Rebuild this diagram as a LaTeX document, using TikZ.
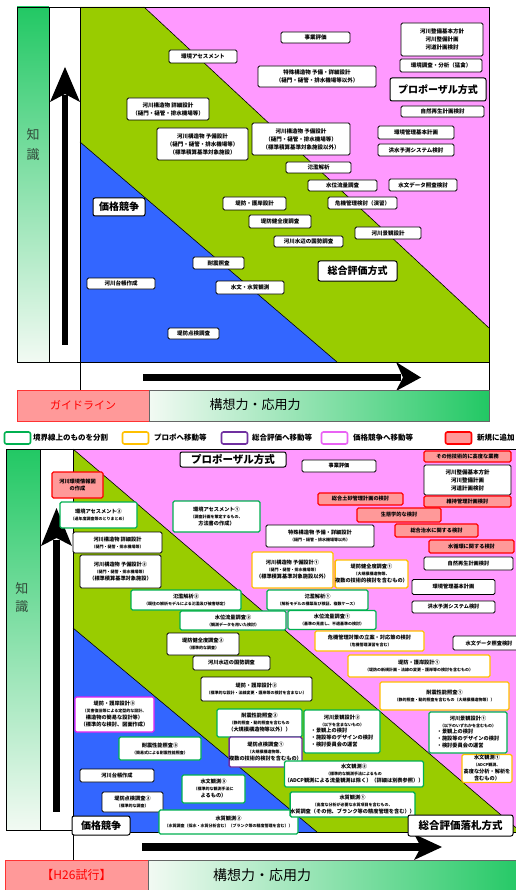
\documentclass[tikz,border=0pt]{standalone}
\usepackage{fontspec}
\setmainfont{Noto Sans CJK JP}
\definecolor{pk}{HTML}{FF99FF}
\definecolor{gr}{HTML}{99CC00}
\definecolor{bl}{HTML}{3366FF}
\definecolor{lgG}{HTML}{00B050}
\definecolor{lgO}{HTML}{FFC000}
\definecolor{lgP}{HTML}{7030A0}
\definecolor{lgM}{HTML}{E020F0}
\definecolor{lgR}{HTML}{FF0000}
\definecolor{lgRf}{HTML}{FF9999}
\definecolor{kg}{HTML}{22C864}
\definecolor{kgW}{HTML}{F2FAF3}
\definecolor{kt}{HTML}{304838}
\newcommand\smt{\fontsize{4}{6}\selectfont}
\tikzset{
  sz/.style 2 args={minimum width=#1pt, minimum height=#2pt},
  bx/.style={draw=black, fill=white, line width=0.8pt, rounded corners=1.5pt, inner sep=0pt, align=center, font=\fontsize{5.5}{8}\selectfont\bfseries},
  bb/.style={bx, font=\fontsize{5.2}{7}\selectfont\bfseries},
  bxG/.style={bb, draw=lgG, line width=1.3pt},
  bxO/.style={bb, draw=lgO, line width=1.3pt},
  bxP/.style={bb, draw=lgP, line width=1.3pt},
  bxM/.style={bb, draw=lgM, line width=1.3pt},
  bxR/.style={bb, draw=lgR, fill=lgRf, line width=1.3pt},
  lbl/.style={draw=black, fill=white, line width=1pt, rounded corners=2pt, inner sep=0pt, font=\fontsize{10}{12}\selectfont\bfseries},
  lgbox/.style={line width=1.6pt, rounded corners=2pt, sz={26}{12}, fill=white},
  lgtxt/.style={anchor=west, inner sep=0pt, font=\fontsize{7.5}{9}\selectfont\bfseries},
  know/.style={inner sep=0pt, align=center, text=kt, font=\fontsize{13}{20}\selectfont},
  axis/.style={inner sep=0pt, font=\fontsize{13}{15}\selectfont},
}
\begin{document}
\begin{tikzpicture}[x=1pt,y=-1pt]
\useasboundingbox (0,0) rectangle (515,890);
\fill[white] (0,0) rectangle (515,890);

% ================= TOP PANEL =================
\node[top color=kg, bottom color=kgW, draw=black, line width=0.6pt, sz={32}{355}, inner sep=0pt] (tBar) at (33,184.5) {};
\node[draw=black, fill=white, line width=0.6pt, sz={31}{355}, inner sep=0pt] (tCol) at (64.5,184.5) {};
\fill[pk] (80,7) rectangle (489,362);
\fill[gr] (80,7) -- (144,7) -- (489,328) -- (489,362) -- (337,362) -- (80,142) -- cycle;
\fill[bl] (80,142) -- (337,362) -- (80,362) -- cycle;
\draw[line width=0.6pt] (144,7) -- (489,328);
\draw[line width=0.6pt] (80,142) -- (337,362);
\draw[line width=0.7pt] (80,7) rectangle (489,362);
\draw[line width=0.6pt] (80,362) rectangle (489,390);
% arrows
\fill[black] (62,345) rectangle (68,95);
\fill[black] (65,67) -- (80,102) -- (65,94) -- (50,102) -- cycle;
\fill[black] (143,374) rectangle (401,381);
\fill[black] (396,362) -- (421,377.5) -- (396,391) -- (403,377.5) -- cycle;
% labels
\node[know] (tKnow) at (33,145) {知\\識};
\node[draw=lgR!80, fill=lgRf, line width=0.8pt, sz={132}{31}, inner sep=0pt, text=lgR, font=\fontsize{11}{13}\selectfont] (tGuide) at (83,405.5) {ガイドライン};
\node[left color=kgW, right color=kg, draw=black!60, line width=0.6pt, sz={340}{31}, inner sep=0pt] (tAxisBar) at (319,405.5) {};
\node[axis] (tAxis) at (255,405) {構想力・応用力};

% top boxes
\node[bx,sz={68}{13}] (tEnv) at (203,56.5) {環境アセスメント};
\node[bx,sz={69}{11}] (tJigyo) at (315.5,37.5) {事業評価};
\node[bx,sz={82}{33}] (tSeibi) at (442,39.5) {河川整備基本方針\\河川整備計画\\河道計画検討};
\node[bx,sz={82}{13}] (tChosa) at (441,65.5) {環境調査・分析（猛禽）};
\node[bx,sz={118}{21}] (tToku) at (317,76.5) {特殊構造物\ 予備・詳細設計\\（樋門・樋管・排水機場等以外）};
\node[lbl,sz={96}{23}] (tPropo) at (438,89.5) {プロポーザル方式};
\node[bx,sz={83}{11}] (tShizen) at (442.5,111.5) {自然再生計画検討};
\node[bx,sz={82}{22}] (tShosai) at (168,109) {河川構造物\ 詳細設計\\（樋門・樋管・排水機場等）};
\node[bx,sz={91}{32}] (tYobiA) at (202.5,144) {河川構造物\ 予備設計\\（樋門・樋管・排水機場等）\\（標準積算基準対象施設）};
\node[bx,sz={98}{32}] (tYobiB) at (301,139) {河川構造物\ 予備設計\\（樋門・樋管・排水機場等）\\（標準積算基準対象施設以外）};
\node[bx,sz={76}{13}] (tKanri) at (416,132.5) {環境管理基本計画};
\node[bx,sz={76}{12}] (tKozui) at (416,150) {洪水予測システム検討};
\node[bx,sz={65}{11}] (tHanran) at (318.5,167.5) {氾濫解析};
\node[bx,sz={69}{11}] (tSuii) at (342.5,185.5) {水位流量調査};
\node[bx,sz={68}{12}] (tSuimon) at (423,185) {水文データ照査検討};
\node[bx,sz={69}{12}] (tKiki) at (362.5,203) {危機管理検討（演習）};
\node[bx,sz={63}{13}] (tTeibo) at (254.5,203.5) {堤防・護岸設計};
\node[lbl,sz={52}{18}] (tKakaku) at (119,207) {価格競争};
\node[bx,sz={62}{13}] (tKenzen) at (280,221.5) {堤防健全度調査};
\node[bx,sz={69}{11}] (tMizube) at (308.5,241.5) {河川水辺の国勢調査};
\node[bx,sz={66}{12}] (tKeikan) at (388,233) {河川景観設計};
\node[lbl,sz={79}{20}] (tSogo) at (357.5,271) {総合評価方式};
\node[bx,sz={51}{12}] (tTaishin) at (218.5,263) {耐震照査};
\node[bx,sz={68}{11}] (tDaicho) at (121,283.5) {河川台帳作成};
\node[bx,sz={68}{13}] (tSuishitsu) at (250,287.5) {水文・水質観測};
\node[bx,sz={51}{11}] (tTenken) at (193.5,333.5) {堤防点検調査};

% ================= LEGEND =================
\node[lgbox, draw=lgG] (lg1) at (17.5,438) {};
\node[lgtxt] (lg1t) at (33,438) {境界線上のものを分割};
\node[lgbox, draw=lgO] (lg2) at (135.5,438) {};
\node[lgtxt] (lg2t) at (154,438) {プロポへ移動等};
\node[lgbox, draw=lgP] (lg3) at (234.5,438) {};
\node[lgtxt] (lg3t) at (252,438) {総合評価へ移動等};
\node[lgbox, draw=lgM!70] (lg4) at (334.5,438) {};
\node[lgtxt] (lg4t) at (353,438) {価格競争へ移動等};
\node[lgbox, draw=lgR, fill=lgRf] (lg5) at (458.5,438) {};
\node[lgtxt] (lg5t) at (477,438) {新規に追加};

% ================= BOTTOM PANEL =================
\node[top color=kg, bottom color=kgW, draw=black, line width=0.6pt, sz={34}{381}, inner sep=0pt] (bBar) at (23,639.5) {};
\node[draw=black, fill=white, line width=0.6pt, sz={33}{381}, inner sep=0pt] (bCol) at (56.5,639.5) {};
\fill[pk] (73,449) rectangle (525,832);
\fill[gr] (73,449) -- (521,832) -- (317,832) -- (73,628) -- cycle;
\fill[bl] (73,628) -- (317,832) -- (73,832) -- cycle;
\draw[line width=0.6pt] (73,449) -- (521,832);
\draw[line width=0.6pt] (73,628) -- (317,832);
\draw[line width=0.7pt] (73,449) rectangle (525,832);
\draw[line width=0.6pt] (73,832) rectangle (525,860);
% arrows
\fill[black] (53,812) rectangle (60,540);
\fill[black] (56.5,508) -- (72,546) -- (56.5,538) -- (41,546) -- cycle;
\fill[black] (142,843) rectangle (421,851);
\fill[black] (414,834) -- (442,847) -- (414,860) -- (421,847) -- cycle;
% labels
\node[know, font=\fontsize{13}{18}\selectfont] (bKnow) at (22,598) {知\\識};
\node[draw=lgR!80, fill=lgRf, line width=0.8pt, sz={143}{30}, inner sep=0pt, text=lgR, font=\fontsize{12}{14}\selectfont] (bTrial) at (76.5,875) {【H26試行】};
\node[left color=kgW, right color=kg, draw=black!60, line width=0.6pt, sz={377}{30}, inner sep=0pt] (bAxisBar) at (336.5,875) {};
\node[axis, font=\fontsize{14}{16}\selectfont] (bAxis) at (262,875) {構想力・応用力};

% bottom boxes
\node[lbl,sz={106}{15},font=\fontsize{10.5}{12}\selectfont\bfseries] (bPropo) at (233,459.5) {プロポーザル方式};
\node[bb,sz={74}{12}] (bJigyo) at (339,466) {事業評価};
\node[bxR,sz={87}{11}] (bSonota) at (467.5,456.5) {その他技術的に高度な業務};
\node[bb,sz={87}{30},font=\fontsize{5.5}{8}\selectfont\bfseries] (bSeibi) at (467.5,480) {河川整備基本方針\\河川整備計画\\河道計画検討};
\node[bxR,sz={85}{12}] (bDosha) at (360.5,499) {総合土砂管理計画の検討};
\node[bxR,sz={87}{11}] (bIji) at (467.5,501.5) {維持管理計画検討};
\node[bxR,sz={84}{14}] (bSeitai) at (399,515) {生態学的な検討};
\node[bxR,sz={83}{13}] (bChisui) at (436.5,530.5) {総合治水に関する検討};
\node[bxR,sz={85}{13}] (bJunkan) at (471.5,546.5) {水循環に関する検討};
\node[bxR,sz={51}{26}] (bJoho) at (77.5,485) {河川環境情報図\\の作成};
\node[bxG,sz={77}{26}] (bEnv2) at (98.5,515) {環境アセスメント②\\\smt（過年度調査等のとりまとめ）};
\node[bxG,sz={87}{31}] (bEnv1) at (216.5,516.5) {環境アセスメント①\\\smt（調査計画を策定するもの、\\方法書の作成）};
\node[bb,sz={89}{21}] (bShosai) at (117.5,542.5) {河川構造物\ 詳細設計\\\smt（樋門・樋管・排水機場等）};
\node[bb,sz={81}{33}] (bYobi2) at (120.5,571.5) {河川構造物\ 予備設計②\\\smt（樋門・樋管・排水機場等）\\（標準積算基準対象施設）};
\node[bb,sz={108}{22}] (bToku) at (320,536) {特殊構造物\ 予備・詳細設計\\\smt（樋門・樋管・排水機場等以外）};
\node[bxO,sz={81}{36}] (bYobi1) at (292.5,570) {河川構造物\ 予備設計①\\\smt（樋門・樋管・排水機場等）\\（標準積算基準対象施設以外）};
\node[bxO,sz={69}{28}] (bKenzen1) at (371.5,574) {堤防健全度調査①\\\smt（大規模構造物等、\\複数の技術的検討を含むもの）};
\node[bb,sz={89}{13}] (bShizen) at (468.5,563.5) {自然再生計画検討};
\node[bb,sz={83}{15}] (bKanri) at (453.5,587) {環境管理基本計画};
\node[bb,sz={83}{12}] (bKozui) at (453.5,607) {洪水予測システム検討};
\node[bxG,sz={101}{20}] (bHanran1) at (317.5,600) {氾濫解析①\\\smt（解析モデルの構築及び検証、複数ケース）};
\node[bxG,sz={110}{20}] (bHanran2) at (186,600) {氾濫解析②\\\smt（既往の解析モデルによる氾濫及び被害想定）};
\node[bxG,sz={106}{19}] (bSuii2) at (233,620.5) {水位流量調査②\\\smt（観測データを用いた検討）};
\node[bxG,sz={88}{19}] (bSuii1) at (332,620) {水位流量調査①\\\smt（基準の見直し、不適基準の検討）};
\node[bxO,sz={109}{20}] (bKiki) at (369.5,641) {危機管理対策の立案・対応策の検討\\\smt（危機管理演習を含む）};
\node[bb,sz={72}{14}] (bSuimon) at (489,643) {水文データ照査検討};
\node[bb,sz={72}{22}] (bKenzen2) at (203,644) {堤防健全度調査②\\\smt（標準的な調査）};
\node[bb,sz={77}{14}] (bMizube) at (231.5,663) {河川水辺の国勢調査};
\node[bxO,sz={142}{22}] (bTeibo1) at (419,666) {堤防・護岸設計①\\\smt（堤防の新規計画・法線の変更・護岸等の検討を含むもの）};
\node[bb,sz={111}{24}] (bTeibo2) at (256.5,689) {堤防・護岸設計②\\\smt（標準的な設計・法線変更・護岸等の検討を含まない）};
\node[bxM,sz={79}{35}] (bTeibo3) at (114.5,714.5) {堤防・護岸設計③\\\smt（災害復旧等による定型的な設計、\\構造物の簡易な設計等）\\（標準的な検討、図面作成）};
\node[bxO,sz={129}{28}] (bTaishin1) at (444.5,696) {耐震性能照査①\\\smt（静的照査・動的照査を含むもの（大規模構造物等））};
\node[bxG,sz={85}{28}] (bTaishin2) at (259.5,723) {耐震性能照査②\\\smt（静的照査・動的照査を含むもの\\（大規模構造物等以外））};
\node[bxG,sz={76}{43}] (bKeikan2) at (342,731.5) {河川景観設計②\\\smt（以下を含まないもの）\\\begin{tabular}{@{}l@{}}・景観上の検討\\・施設等のデザインの検討\\・検討委員会の運営\end{tabular}};
\node[bxG,sz={78}{41}] (bKeikan1) at (468,732.5) {河川景観設計①\\\smt（以下のいずれかを含むもの）\\\begin{tabular}{@{}l@{}}・景観上の検討\\・施設等のデザインの検討\\・検討委員会の運営\end{tabular}};
\node[bxP,sz={63}{30}] (bTenken1) at (265.5,752) {堤防点検調査①\\\smt（大規模構造物等、\\複数の技術的検討を含むもの）};
\node[bxG,sz={82}{23}] (bTaishin3) at (160,748.5) {耐震性能照査③\\\smt（簡易式による耐震性能照査）};
\node[bb,sz={74}{13}] (bDaicho) at (117,775.5) {河川台帳作成};
\node[bb,sz={61}{20}] (bTenken2) at (132.5,802) {堤防点検調査②\\\smt（標準的な調査）};
\node[bxG,sz={63}{28}] (bSuimon3) at (213.5,789) {水文観測③\\\smt（標準的な観測手法に\\よるもの）};
\node[bxG,sz={139}{24}] (bSuishitsu2) at (228.5,822) {水質観測②\\\smt（水質調査（採水・水質分析含む）（ブランク等の精度管理を含む））};
\node[bxG,sz={120}{26}] (bSuimon2) at (354,774) {水文観測②\\\smt（標準的な観測手法によるもの\\（ADCP観測による流量観測は除く）（詳細は別表参照））};
\node[bxG,sz={107}{25}] (bSuishitsu1) at (352.5,804.5) {水質観測①\\\smt（高度な分析が必要な水質項目を含むもの、\\水質調査（その他、ブランク等の精度管理を含む））};
\node[bxO,sz={50}{28}] (bSuimon1) at (487,768.5) {水文観測①\\\smt（ADCP観測、\\高度な分析・解析を\\含むもの）};
\node[lbl,sz={105}{21},font=\fontsize{10.5}{12}\selectfont\bfseries] (bSogo) at (460.5,825.5) {総合評価落札方式};
\node[lbl,sz={58}{19}] (bKakaku) at (101,825.5) {価格競争};
\end{tikzpicture}
\end{document}
